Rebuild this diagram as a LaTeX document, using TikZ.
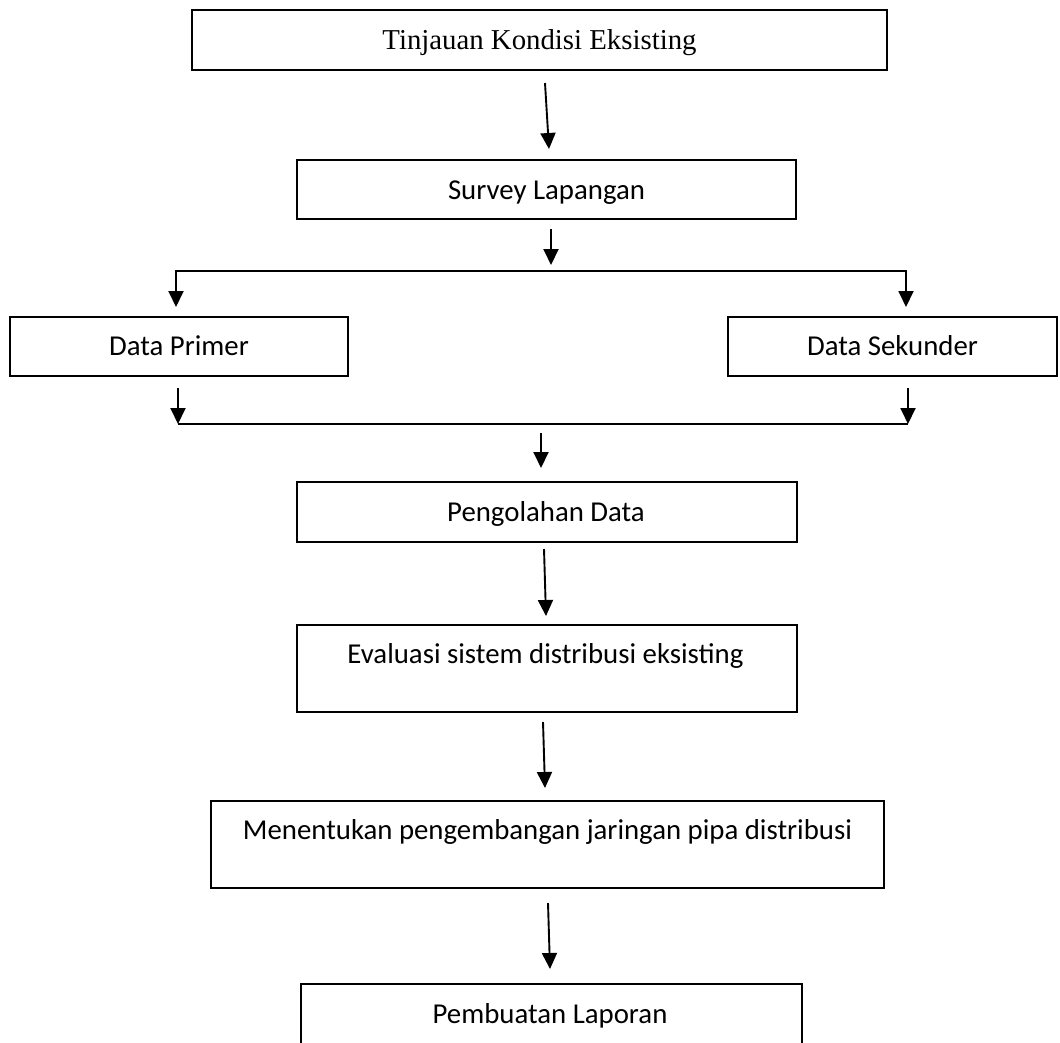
\documentclass[tikz,border=0pt]{standalone}
\usepackage{fontspec}
\setmainfont{Carlito}
\newfontfamily\timesfont{Liberation Serif}
\usetikzlibrary{arrows.meta,calc}
\begin{document}
\begin{tikzpicture}[x=1pt,y=-1pt,
  box/.style={draw, line width=2pt, rectangle, inner sep=0pt},
  lbl/.style={anchor=base, inner sep=0pt, font=\fontsize{28.8}{34}\selectfont},
  conn/.style={line width=1.9pt},
  arr/.style={conn, -{Triangle[length=16pt,width=15pt]}},
  darr/.style={conn, {Triangle[length=16pt,width=15pt]}-{Triangle[length=16pt,width=15pt]}}]
\useasboundingbox (0,0) rectangle (1060,1042);
\fill[white] (0,0) rectangle (1060,1042);
\begin{scope}
\clip (0,0) rectangle (1060,1042);
% boxes
\node[box, minimum width=695pt, minimum height=60pt] (b1) at (539.5,40) {};
\node[box, minimum width=499pt, minimum height=59pt] (b2) at (546.5,189.5) {};
\node[box, minimum width=338pt, minimum height=59pt] (b3) at (179,346.5) {};
\node[box, minimum width=329pt, minimum height=59pt] (b4) at (892.5,346.5) {};
\node[box, minimum width=500pt, minimum height=60pt] (b5) at (547,512) {};
\node[box, minimum width=500pt, minimum height=87pt] (b6) at (547,668.5) {};
\node[box, minimum width=673pt, minimum height=87pt] (b7) at (547.5,844.5) {};
\node[box, minimum width=501pt, minimum height=80pt] (b8) at (551.5,1024) {};
\end{scope}
% texts
\node[lbl, font=\fontsize{28.8}{34}\selectfont\timesfont] (t1) at (539.5,49) {Tinjauan Kondisi Eksisting};
\node[lbl] (t2) at (546.5,199) {Survey Lapangan};
\node[lbl] (t3) at (179,355.5) {Data Primer};
\node[lbl] (t4) at (892.5,355.5) {Data Sekunder};
\node[lbl] (t5) at (546,521) {Pengolahan Data};
\node[lbl] (t6) at (545.5,663) {Evaluasi sistem distribusi eksisting};
\node[lbl] (t7) at (547.5,839) {Menentukan pengembangan jaringan pipa distribusi};
\node[lbl] (t8) at (550,1023) {Pembuatan Laporan};
% junctions
\coordinate (jt) at (551,271);
\coordinate (ml) at (178,424);
\coordinate (mr) at (908,424);
\coordinate (jb) at (543,424);
% connectors
\draw[arr] ($(b1.south)+(5.5,12)$) -- ($(b2.north)+(2.5,-10)$);
\draw[arr] ($(b2.south)+(4.5,9)$) -- ($(jt)+(0,-6)$);
\draw[darr] ($(b3.north)+(-3,-9)$) |- (jt) -| ($(b4.north)+(13.5,-9)$);
\draw[conn] (ml) -- (mr);
\draw[arr] ($(b3.south)+(-1,11)$) -- (ml);
\draw[arr] ($(b4.south)+(15.5,11)$) -- (mr);
\draw[arr] ($(jb)+(-2,9)$) -- ($(b5.north)+(-6,-13)$);
\draw[arr] ($(b5.south)+(-3,6)$) -- ($(b6.north)+(-1,-8)$);
\draw[arr] ($(b6.south)+(-4,9)$) -- ($(b7.north)+(-2.5,-12)$);
\draw[arr] ($(b7.south)+(0.5,14)$) -- ($(b8.north)+(-1.5,-14)$);
\end{tikzpicture}
\end{document}
